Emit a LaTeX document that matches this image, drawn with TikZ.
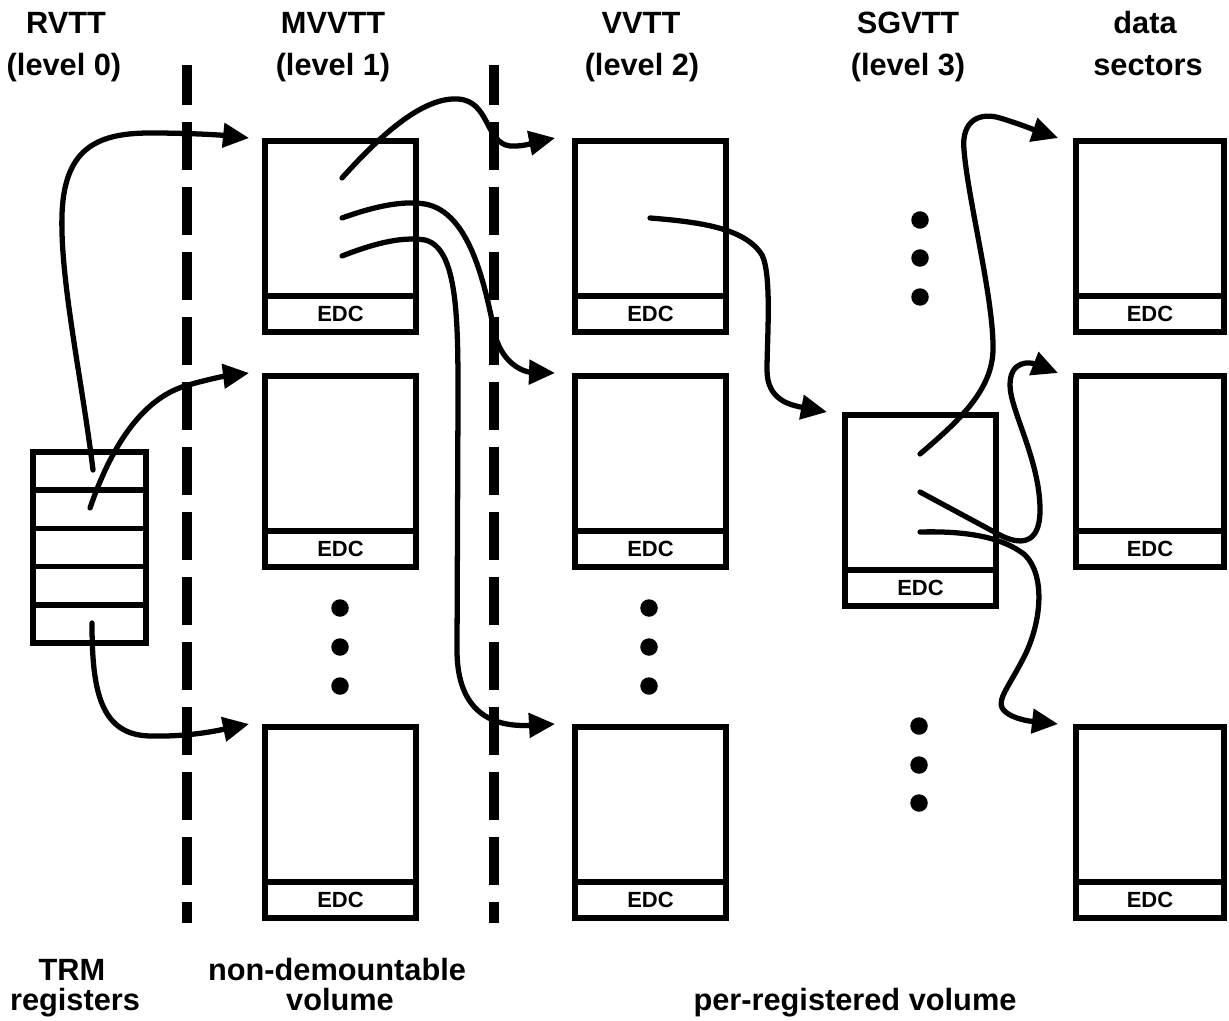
\documentclass[tikz,border=0pt]{standalone}
\usepackage{fontspec}
\setmainfont{Liberation Sans}
\usetikzlibrary{arrows.meta,calc}
\begin{document}
\begin{tikzpicture}[x=0.02cm,y=-0.02cm,
 tbl/.style={draw,line width=3.1pt,minimum width=3.02cm,minimum height=3.82cm,inner sep=0pt,outer sep=0pt,anchor=north west},
 edcbox/.style={draw,line width=3.1pt,minimum width=3.02cm,minimum height=0.72cm,inner sep=0pt,outer sep=0pt,anchor=south west,font=\bfseries\fontsize{12.5}{14}\selectfont},
 reg/.style={draw,line width=3.1pt,minimum width=2.26cm,minimum height=0.764cm,inner sep=0pt,outer sep=0pt,anchor=north west},
 dot/.style={circle,fill,inner sep=0pt,minimum size=0.35cm},
 ttl/.style={font=\bfseries\fontsize{17.5}{21}\selectfont,anchor=base,inner sep=0pt},
 link/.style={line width=3pt,line cap=round,-{Triangle[length=0.52cm,width=0.48cm]}},
 divider/.style={line width=0.19cm,dash pattern=on 0.96cm off 0.34cm,dash phase=0.16cm}
]
\fill[white] (0,0) rectangle (1229,1020);
\useasboundingbox (0,0) rectangle (1229,1020);

% titles
\node[ttl] (t0a) at (66,34) {RVTT};
\node[ttl] (t0b) at (64,76) {(level 0)};
\node[ttl] (t1a) at (333,34) {MVVTT};
\node[ttl] (t1b) at (333,76) {(level 1)};
\node[ttl] (t2a) at (641,34) {VVTT};
\node[ttl] (t2b) at (642,76) {(level 2)};
\node[ttl] (t3a) at (908,34) {SGVTT};
\node[ttl] (t3b) at (908,76) {(level 3)};
\node[ttl] (t4a) at (1145,34) {data};
\node[ttl] (t4b) at (1148,76) {sectors};

% bottom labels
\node[ttl] (b0a) at (72,980) {TRM};
\node[ttl] (b0b) at (75,1010) {registers};
\node[ttl] (b1a) at (337,980) {non-demountable};
\node[ttl] (b1b) at (340,1010) {volume};
\node[ttl] (b2) at (855,1010) {per-registered volume};

% dividers
\draw[divider] (187,65) -- (187,923);
\draw[divider] (494,65) -- (494,923);

% register stack
\node[reg] (r1) at (33,452) {};
\node[reg] (r2) at (r1.south west) {};
\node[reg] (r3) at (r2.south west) {};
\node[reg] (r4) at (r3.south west) {};
\node[reg] (r5) at (r4.south west) {};

% MVVTT column
\node[tbl] (m1) at (265,141) {};
\node[edcbox] (m1e) at (m1.south west) {EDC};
\node[tbl] (m2) at (265,376) {};
\node[edcbox] (m2e) at (m2.south west) {EDC};
\node[tbl] (m3) at (265,727) {};
\node[edcbox] (m3e) at (m3.south west) {EDC};

% VVTT column
\node[tbl] (v1) at (575,141) {};
\node[edcbox] (v1e) at (v1.south west) {EDC};
\node[tbl] (v2) at (575,376) {};
\node[edcbox] (v2e) at (v2.south west) {EDC};
\node[tbl] (v3) at (575,727) {};
\node[edcbox] (v3e) at (v3.south west) {EDC};

% SGVTT
\node[tbl] (sg) at (845,415) {};
\node[edcbox] (sge) at (sg.south west) {EDC};

% data sectors
\node[tbl,minimum width=2.96cm] (d1) at (1076,141) {};
\node[edcbox,minimum width=2.96cm] (d1e) at (d1.south west) {EDC};
\node[tbl,minimum width=2.96cm] (d2) at (1076,376) {};
\node[edcbox,minimum width=2.96cm] (d2e) at (d2.south west) {EDC};
\node[tbl,minimum width=2.96cm] (d3) at (1076,727) {};
\node[edcbox,minimum width=2.96cm] (d3e) at (d3.south west) {EDC};

% ellipsis dots
\node[dot] (c1a) at (340,608) {};
\node[dot] (c1b) at (340,647) {};
\node[dot] (c1c) at (340,686) {};
\node[dot] (c2a) at (649,608) {};
\node[dot] (c2b) at (649,647) {};
\node[dot] (c2c) at (649,686) {};
\node[dot] (c3a) at (920,220) {};
\node[dot] (c3b) at (920,258) {};
\node[dot] (c3c) at (920,297) {};
\node[dot] (c4a) at (919,726) {};
\node[dot] (c4b) at (919,765) {};
\node[dot] (c4c) at (919,803) {};

% arrow targets
\coordinate (m1-in) at ($(m1.north west)+(-16,-3)$);
\coordinate (m2-in) at ($(m2.north west)+(-16,-3)$);
\coordinate (m3-in) at ($(m3.north west)+(-16,-3)$);
\coordinate (v1-in) at ($(v1.north west)+(-20,-3)$);
\coordinate (v2-in) at ($(v2.north west)+(-20,-3)$);
\coordinate (v3-in) at ($(v3.north west)+(-20,-3)$);
\coordinate (sg-in) at ($(sg.north west)+(-18,-3)$);
\coordinate (d1-in) at ($(d1.north west)+(-18,-3)$);
\coordinate (d2-in) at ($(d2.north west)+(-18,-3)$);
\coordinate (d3-in) at ($(d3.north west)+(-18,-3)$);

% arrow starts
\coordinate (a1s) at (93,470);
\coordinate (a2s) at (90,508);
\coordinate (a3s) at (92,623);
\coordinate (a4s) at (342,178);
\coordinate (a5s) at (342,218);
\coordinate (a6s) at (342,256);
\coordinate (a7s) at (650,218);
\coordinate (a8s) at (920,454);
\coordinate (a9s) at (920,492);
\coordinate (a10s) at (920,532);

\draw[link] (a1s) .. controls (82,380) and (60,280) .. (62,215)
  .. controls (64,150) and (95,133) .. (150,133)
  .. controls (190,133) and (220,135) .. (m1-in);
\draw[link] (a2s) .. controls (110,450) and (140,400) .. (185,386)
  .. controls (205,380) and (225,376) .. (m2-in);
\draw[link] (a3s) .. controls (92,690) and (100,735) .. (150,736)
  .. controls (190,737) and (220,730) .. (m3-in);
\draw[link] (a4s) .. controls (385,130) and (425,97) .. (458,99)
  .. controls (490,101) and (485,143) .. (510,146)
  .. controls (525,147) and (540,141) .. (v1-in);
\draw[link] (a5s) .. controls (370,208) and (400,200) .. (425,204)
  .. controls (470,212) and (485,285) .. (495,335)
  .. controls (503,365) and (525,372) .. (v2-in);
\draw[link] (a6s) .. controls (370,245) and (400,236) .. (425,240)
  .. controls (458,248) and (458,320) .. (458,400) -- (457,650)
  .. controls (457,700) and (480,728) .. (v3-in);
\draw[link] (a7s) .. controls (700,222) and (745,228) .. (762,255)
  .. controls (772,275) and (767,340) .. (767,370)
  .. controls (767,400) and (790,405) .. (sg-in);
\draw[link] (a8s) .. controls (960,420) and (992,390) .. (993,350)
  .. controls (994,300) and (968,200) .. (964,150)
  .. controls (961,120) and (980,112) .. (1000,118)
  .. controls (1020,124) and (1040,132) .. (d1-in);
\draw[link] (a9s) -- (998,534) .. controls (1020,546) and (1040,545) .. (1040,510)
  .. controls (1040,460) and (1010,410) .. (1010,385)
  .. controls (1010,360) and (1030,362) .. (d2-in);
\draw[link] (a10s) .. controls (960,531) and (1000,535) .. (1025,555)
  .. controls (1045,575) and (1042,620) .. (1025,655)
  .. controls (1005,695) and (990,705) .. (1012,716)
  .. controls (1025,722) and (1040,722) .. (d3-in);
\end{tikzpicture}
\end{document}
